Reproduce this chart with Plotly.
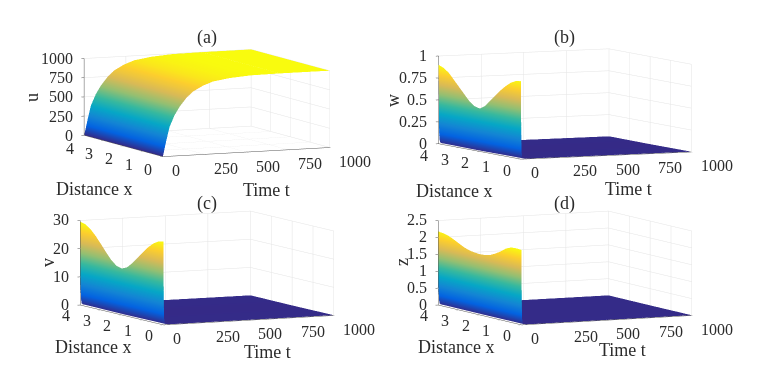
import numpy as np
import plotly.graph_objects as go

parula = ["#352a87", "#0363e1", "#1485d4", "#06a7c6", "#38b99e", "#92bf73", "#d9ba56", "#fcce2e", "#f9fb0e"]
colorscale = [[i / (len(parula) - 1), c] for i, c in enumerate(parula)]

# grid
distance = [0, 0.25, 0.5, 0.75, 1, 1.25, 1.5, 1.75, 2, 2.25, 2.5, 2.75, 3, 3.25, 3.5, 3.75, 4]
time_u = [0, 10, 20, 40, 70, 100, 140, 180, 240, 300, 400, 525, 700, 1000]
time_wall = [0, 1, 2, 4, 8, 15, 30, 100, 250, 500, 750, 1000]
# the tail sits just above zero so the dark floor covers the grid under it
wall_decay = [1, 0.55, 0.25, 0.08, 0.02, 0.008, 0.004, 0.004, 0.004, 0.004, 0.004, 0.004]
time_ticks = [0, 250, 500, 750, 1000]
distance_ticks = [0, 1, 2, 3, 4]

u_over_t = [0, 100, 200, 382, 530, 637, 745, 825, 895, 942, 975, 995, 1000, 1000]
w_start = [0.89, 0.88, 0.85, 0.80, 0.74, 0.67, 0.60, 0.53, 0.49, 0.505, 0.55, 0.62, 0.69, 0.76, 0.83, 0.875, 0.90]
v_start = [29.6, 29.2, 28.0, 26.2, 24.0, 21.6, 19.3, 17.4, 16.5, 17.0, 18.6, 20.9, 23.4, 25.8, 27.8, 29.1, 29.6]
z_start = [2.22, 2.23, 2.22, 2.15, 2.03, 1.93, 1.85, 1.81, 1.80, 1.81, 1.84, 1.89, 1.97, 2.05, 2.12, 2.16, 2.18]

panels = [
    dict(name="scene", letter="(a)", label="u", z=np.outer(np.ones(len(distance)), u_over_t), t=time_u,
         zmax=1000, ticks=[0, 250, 500, 750, 1000], centre=(206.5, 103), az=24.2, el=7.0, aspect=(181, 190, 76.5),
         letter_xy=(207, 38), label_xy=(32, 97), dist_xy=(94, 189), time_xy=(266, 190), drop=13),
    dict(name="scene2", letter="(b)", label="w", z=np.outer(w_start, wall_decay), t=time_wall,
         zmax=1, ticks=[0, 0.25, 0.5, 0.75, 1], centre=(564.5, 103.5), az=25.4, el=5.1, aspect=(182.6, 186, 85.3),
         letter_xy=(564, 38), label_xy=(393, 100), dist_xy=(454, 191), time_xy=(628, 189), drop=12),
    dict(name="scene3", letter="(c)", label="v", z=np.outer(v_start, wall_decay), t=time_wall,
         zmax=30, ticks=[0, 10, 20, 30], centre=(206.5, 267.5), az=25.7, el=6.6, aspect=(181, 184, 81.5),
         letter_xy=(207, 203), label_xy=(48, 263), dist_xy=(93, 347), time_xy=(267, 352), drop=11),
    dict(name="scene4", letter="(d)", label="z", z=np.outer(z_start, wall_decay), t=time_wall,
         zmax=2.5, ticks=[0, 0.5, 1, 1.5, 2, 2.5], centre=(564.7, 267.5), az=25.7, el=6.6, aspect=(181, 184, 81.5),
         letter_xy=(564, 203), label_xy=(402, 262), dist_xy=(456, 347), time_xy=(622, 350), drop=11),
]

W, H = 765, 382
BOX_SCALE = 2.26
serif = "Liberation Serif"
ink = "#2b2b2b"


def note(text, xy, angle=0):
    return dict(text=text, x=xy[0] / W, y=1 - xy[1] / H, xref="paper", yref="paper", showarrow=False,
                xanchor="center", yanchor="middle", textangle=angle, font=dict(family=serif, size=18, color=ink))


def tick_label(value, x, y, z, anchor, dx, dy):
    return dict(text=str(value), x=x, y=y, z=z, showarrow=False, xanchor=anchor, yanchor="middle",
                xshift=dx, yshift=dy, font=dict(family=serif, size=16, color=ink))


fig = go.Figure()
notes = []
for p in panels:
    fig.add_trace(go.Surface(x=p["t"], y=distance, z=p["z"], colorscale=colorscale, cmin=0, cmax=p["z"].max(),
                             showscale=False, scene=p["name"], lighting=dict(ambient=1, diffuse=0, specular=0, fresnel=0),
                             contours=dict(x=dict(highlight=False), y=dict(highlight=False), z=dict(highlight=False))))
    cx, cy = p["centre"]
    a = np.radians(p["az"])
    e = np.radians(p["el"])
    ax_style = dict(showbackground=False, showgrid=True, gridcolor="#e4e4e4", gridwidth=1, zeroline=False,
                    showline=True, linecolor="#555555", linewidth=1, ticks="inside", ticklen=3, tickcolor="#555555",
                    showticklabels=False, title=dict(text=""), showspikes=False)
    s = max(p["aspect"]) / BOX_SCALE
    labels = [tick_label(v, v, 0, 0, "left", 8, -14) for v in time_ticks]
    labels += [tick_label(v, 0, v, 0, "center", -14, -p["drop"]) for v in distance_ticks]
    labels += [tick_label(v, 0, 4, v, "right", -9, 0) for v in p["ticks"]]
    fig.update_layout({p["name"]: dict(
        domain=dict(x=[(cx - 175) / W, (cx + 175) / W], y=[1 - (cy + 85) / H, 1 - (cy - 85) / H]),
        aspectmode="manual",
        aspectratio=dict(x=p["aspect"][0] / s, y=p["aspect"][1] / s, z=p["aspect"][2] / s),
        camera=dict(projection=dict(type="orthographic"), center=dict(x=0, y=0, z=0),
                    up=dict(x=0, y=0, z=1),
                    eye=dict(x=-np.sin(a) * np.cos(e) * 2, y=-np.cos(a) * np.cos(e) * 2, z=np.sin(e) * 2)),
        xaxis=dict(ax_style, range=[0, 1000], tickvals=time_ticks),
        yaxis=dict(ax_style, range=[0, 4], tickvals=distance_ticks),
        zaxis=dict(ax_style, range=[0, p["zmax"]], tickvals=p["ticks"]),
        annotations=labels,
    )})
    notes += [note(p["letter"], p["letter_xy"]), note(p["label"], p["label_xy"], -90),
              note("Distance x", p["dist_xy"]), note("Time t", p["time_xy"])]

fig.update_layout(width=W, height=H, margin=dict(l=0, r=0, t=0, b=0), paper_bgcolor="white", showlegend=False,
                  annotations=notes)
# the default body margin would push the whole figure 8px down and right
fig.write_html("out.html", config=dict(displayModeBar=False), post_script="document.body.style.margin = '0';")
